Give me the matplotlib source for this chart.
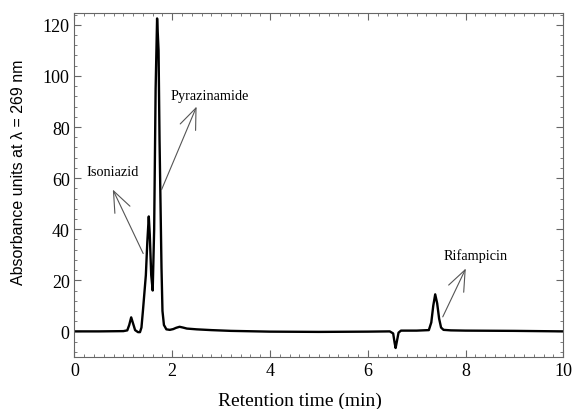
import numpy as np
import matplotlib.pyplot as plt
from matplotlib.ticker import MultipleLocator

plt.rcParams['font.family'] = ['Liberation Serif', 'DejaVu Serif']

# Chromatogram (time in min, absorbance units)
time = [0.0, 0.5, 1.0, 1.08, 1.12, 1.16, 1.20, 1.24, 1.30, 1.34,
        1.37, 1.40, 1.43, 1.46, 1.49, 1.52, 1.54, 1.57, 1.60, 1.63,
        1.66, 1.69, 1.72, 1.74, 1.76, 1.78, 1.80, 1.83, 1.88, 1.95,
        2.02, 2.08, 2.15, 2.22, 2.30, 2.50, 2.80, 3.20, 4.00, 5.00,
        6.00, 6.45, 6.52, 6.55, 6.57, 6.60, 6.63, 6.68, 6.80, 7.00,
        7.25, 7.30, 7.34, 7.38, 7.42, 7.46, 7.50, 7.55, 7.70, 8.00,
        9.00, 10.0]
absorb = [0.0, 0.0, 0.1, 0.4, 2.5, 5.5, 3.0, 0.5, -0.3, -0.3,
          1.5, 8.0, 15.0, 22.0, 35.0, 45.0, 38.0, 22.0, 16.0, 40.0,
          95.0, 122.5, 110.0, 75.0, 50.0, 25.0, 8.0, 2.5, 0.8, 0.6,
          0.9, 1.4, 1.8, 1.5, 1.1, 0.8, 0.5, 0.2, -0.1, -0.2,
          -0.1, 0.0, -0.8, -4.5, -6.5, -3.5, -0.5, 0.3, 0.3, 0.3,
          0.5, 3.5, 10.0, 14.5, 11.0, 5.0, 1.5, 0.6, 0.4, 0.3,
          0.2, 0.0]

# Peak labels: name, text position, arrow tail, arrow head
labels = ['Isoniazid', 'Pyrazinamide', 'Rifampicin']
text_xy = [(0.78, 62.5), (2.77, 92.5), (8.2, 30.0)]
tail_xy = [(1.43, 29.5), (1.76, 54.5), (7.51, 4.7)]
head_xy = [(0.76, 56.5), (2.52, 89.0), (8.03, 25.6)]

fig = plt.figure(figsize=(5.73, 4.10), dpi=100)
ax = fig.add_axes([0.130, 0.127, 0.853, 0.838])

ax.plot(time, absorb, color='black', lw=1.7)

for name, txy, t0, h in zip(labels, text_xy, tail_xy, head_xy):
    ax.annotate('', xy=h, xytext=t0,
                arrowprops=dict(arrowstyle='->, head_length=0.75, head_width=0.3',
                                color='#555555', lw=0.8, mutation_scale=20))
    ax.text(txy[0], txy[1], name, ha='center', va='center', fontsize=10.3)

ax.set_xlim(0, 10)
ax.set_ylim(-10, 124.5)
ax.xaxis.set_major_locator(MultipleLocator(2))
ax.xaxis.set_minor_locator(MultipleLocator(0.2))
ax.yaxis.set_major_locator(MultipleLocator(20))
ax.yaxis.set_minor_locator(MultipleLocator(4))
ax.tick_params(which='both', direction='in', top=True, right=True,
               color='#666666', labelsize=13)
ax.tick_params(which='major', length=5)
ax.tick_params(which='minor', length=2.5)
for s in ax.spines.values():
    s.set_color('#666666')
    s.set_linewidth(0.8)

ax.set_xlabel('Retention time (min)', fontsize=14)
ax.xaxis.set_label_coords(0.462, -0.1)
ax.set_ylabel('Absorbance units at λ = 269 nm', fontsize=11.5,
              family=['Liberation Sans', 'DejaVu Sans'])
ax.yaxis.set_label_coords(-0.1, 0.54)

fig.savefig('out.png', dpi=100)
